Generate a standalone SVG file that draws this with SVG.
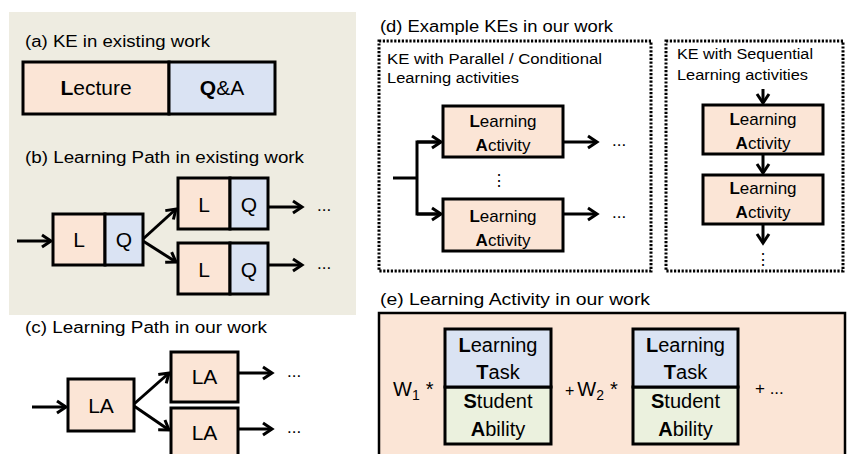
<svg xmlns="http://www.w3.org/2000/svg" width="847" height="454" viewBox="0 0 847 454">
<defs>
<marker id="arr" markerUnits="userSpaceOnUse" markerWidth="14" markerHeight="16" refX="11" refY="7" orient="auto" overflow="visible">
<path d="M2,1 L11,7 L2,13" fill="none" stroke="#000" stroke-width="3" stroke-linejoin="miter"/>
</marker>
</defs>
<style>
text{font-family:"Liberation Sans",Arial,sans-serif;fill:#000}
.t{font-size:16px}
.s{font-size:14px}
.box{stroke:#000;stroke-width:3}
.pe{fill:#FBE5D6}
.bl{fill:#DAE3F3}
.gr{fill:#EBF1DE}
.ln{stroke:#000;stroke-width:3;fill:none}
.dot{stroke:#000;stroke-width:3;fill:none;stroke-dasharray:2.2 1.6}
.c{text-anchor:middle}
.big{font-size:21px}
.m{font-size:17px}
.e{font-size:20px}
</style>
<rect x="9" y="12" width="347" height="303" fill="#EEECE1"/>
<text class="t" x="25" y="47" textLength="185" lengthAdjust="spacingAndGlyphs">(a) KE in existing work</text>
<text class="t" x="25" y="163" textLength="279" lengthAdjust="spacingAndGlyphs">(b) Learning Path in existing work</text>
<text class="t" x="25" y="333" textLength="242" lengthAdjust="spacingAndGlyphs">(c) Learning Path in our work</text>
<text class="t" x="380" y="32" textLength="233" lengthAdjust="spacingAndGlyphs">(d) Example KEs in our work</text>
<text class="t" x="380" y="305" textLength="270" lengthAdjust="spacingAndGlyphs">(e) Learning Activity in our work</text>

<g id="a-ke">
<rect class="box pe" x="23" y="62" width="146" height="52"/>
<rect class="box bl" x="169" y="62" width="106" height="52"/>
<text class="big c" x="96" y="95"><tspan font-weight="bold">L</tspan>ecture</text>
<text class="big c" x="222" y="95"><tspan font-weight="bold">Q</tspan>&amp;A</text>
</g>

<g id="b-lq1">
<rect class="box pe" x="53" y="214" width="52" height="51"/>
<rect class="box bl" x="105" y="214" width="38" height="51"/>
<text class="big c" x="79" y="247">L</text>
<text class="big c" x="124" y="247">Q</text>
</g>
<g id="b-lq2">
<rect class="box pe" x="178" y="178" width="52" height="51"/>
<rect class="box bl" x="230" y="178" width="38" height="51"/>
<text class="big c" x="204" y="212">L</text>
<text class="big c" x="249" y="212">Q</text>
</g>
<g id="b-lq3">
<rect class="box pe" x="178" y="243" width="52" height="51"/>
<rect class="box bl" x="230" y="243" width="38" height="51"/>
<text class="big c" x="204" y="277">L</text>
<text class="big c" x="249" y="277">Q</text>
</g>

<g id="c-la1">
<rect class="box pe" x="68" y="379" width="66" height="52"/>
<text class="big c" x="101" y="413">LA</text>
</g>
<g id="c-la2">
<rect class="box pe" x="171" y="352" width="67" height="50"/>
<text class="big c" x="204.5" y="384">LA</text>
</g>
<g id="c-la3">
<rect class="box pe" x="171" y="408" width="67" height="52"/>
<text class="big c" x="204.5" y="440">LA</text>
</g>

<g id="d-parallel">
<rect class="dot" x="379" y="41" width="272" height="230"/>
<text class="s" x="387" y="64" textLength="215" lengthAdjust="spacingAndGlyphs">KE with Parallel / Conditional</text>
<text class="s" x="387" y="83" textLength="132" lengthAdjust="spacingAndGlyphs">Learning activities</text>
</g>
<g id="d-la1">
<rect class="box pe" x="443" y="106" width="120" height="51"/>
<text class="m c" x="503" y="127"><tspan font-weight="bold">L</tspan>earning</text>
<text class="m c" x="503" y="151"><tspan font-weight="bold">A</tspan>ctivity</text>
</g>
<g id="d-la2">
<rect class="box pe" x="443" y="199" width="120" height="52"/>
<text class="m c" x="503" y="222"><tspan font-weight="bold">L</tspan>earning</text>
<text class="m c" x="503" y="246"><tspan font-weight="bold">A</tspan>ctivity</text>
</g>
<g id="d-sequential">
<rect class="dot" x="666" y="41" width="177" height="230"/>
<text class="s" x="677" y="59" textLength="136" lengthAdjust="spacingAndGlyphs">KE with Sequential</text>
<text class="s" x="677" y="80" textLength="131" lengthAdjust="spacingAndGlyphs">Learning activities</text>
</g>
<g id="d-la3">
<rect class="box pe" x="703" y="105" width="120" height="49"/>
<text class="m c" x="763" y="125"><tspan font-weight="bold">L</tspan>earning</text>
<text class="m c" x="763" y="149"><tspan font-weight="bold">A</tspan>ctivity</text>
</g>
<g id="d-la4">
<rect class="box pe" x="703" y="175" width="120" height="49"/>
<text class="m c" x="763" y="194"><tspan font-weight="bold">L</tspan>earning</text>
<text class="m c" x="763" y="218"><tspan font-weight="bold">A</tspan>ctivity</text>
</g>

<g id="e-activity">
<rect x="379" y="313" width="466" height="150" fill="#FBE5D6" stroke="#000" stroke-width="2.5"/>
<text class="e" x="393" y="396">W<tspan font-size="14px" dy="4">1</tspan><tspan dx="6" dy="-4">*</tspan></text>
<rect class="gr" x="445" y="387" width="106" height="57" stroke="#000" stroke-width="3"/>
<rect class="bl" x="445" y="329" width="106" height="58" stroke="#000" stroke-width="3"/>
<text class="e c" x="498" y="352"><tspan font-weight="bold">L</tspan>earning</text>
<text class="e c" x="498" y="379"><tspan font-weight="bold">T</tspan>ask</text>
<text class="e c" x="498" y="408"><tspan font-weight="bold">S</tspan>tudent</text>
<text class="e c" x="498" y="436"><tspan font-weight="bold">A</tspan>bility</text>
<text class="e" x="565" y="396"><tspan font-size="16px">+</tspan><tspan dx="3">W</tspan><tspan font-size="14px" dy="4">2</tspan><tspan dx="6" dy="-4">*</tspan></text>
<rect class="gr" x="633" y="387" width="105" height="57" stroke="#000" stroke-width="3"/>
<rect class="bl" x="633" y="329" width="105" height="58" stroke="#000" stroke-width="3"/>
<text class="e c" x="685.5" y="352"><tspan font-weight="bold">L</tspan>earning</text>
<text class="e c" x="685.5" y="379"><tspan font-weight="bold">T</tspan>ask</text>
<text class="e c" x="685.5" y="408"><tspan font-weight="bold">S</tspan>tudent</text>
<text class="e c" x="685.5" y="436"><tspan font-weight="bold">A</tspan>bility</text>
<text x="755" y="394" font-size="17px">+ ...</text>
</g>

<g id="connectors">
<line class="ln" x1="17" y1="241" x2="51" y2="241" marker-end="url(#arr)"/>
<line class="ln" x1="143" y1="239" x2="176" y2="209" marker-end="url(#arr)"/>
<line class="ln" x1="143" y1="241" x2="176" y2="262" marker-end="url(#arr)"/>
<line class="ln" x1="268" y1="207" x2="302" y2="207" marker-end="url(#arr)"/>
<line class="ln" x1="268" y1="265" x2="302" y2="265" marker-end="url(#arr)"/>
<text x="317" y="211" font-size="17px">...</text>
<text x="317" y="269" font-size="17px">...</text>

<line class="ln" x1="32" y1="407" x2="66" y2="407" marker-end="url(#arr)"/>
<line class="ln" x1="134" y1="404" x2="169" y2="373" marker-end="url(#arr)"/>
<line class="ln" x1="134" y1="406" x2="169" y2="430" marker-end="url(#arr)"/>
<line class="ln" x1="238" y1="373" x2="272" y2="373" marker-end="url(#arr)"/>
<line class="ln" x1="238" y1="429" x2="272" y2="429" marker-end="url(#arr)"/>
<text x="287" y="377" font-size="17px">...</text>
<text x="287" y="433" font-size="17px">...</text>

<polyline class="ln" points="393,178 417,178"/>
<polyline class="ln" points="441,142 417,142 417,214 441,214"/>
<line class="ln" x1="417" y1="142" x2="441" y2="142" marker-end="url(#arr)"/>
<line class="ln" x1="417" y1="214" x2="441" y2="214" marker-end="url(#arr)"/>
<text x="499" y="186" font-size="16px" text-anchor="middle" font-family="DejaVu Sans">⋮</text>
<line class="ln" x1="563" y1="142" x2="597" y2="142" marker-end="url(#arr)"/>
<line class="ln" x1="563" y1="214" x2="597" y2="214" marker-end="url(#arr)"/>
<text x="612" y="146" font-size="17px">...</text>
<text x="612" y="218" font-size="17px">...</text>

<line class="ln" x1="763" y1="89" x2="763" y2="103" marker-end="url(#arr)"/>
<line class="ln" x1="763" y1="155" x2="763" y2="173" marker-end="url(#arr)"/>
<line class="ln" x1="763" y1="225" x2="763" y2="243" marker-end="url(#arr)"/>
<text x="763" y="265" font-size="16px" text-anchor="middle" font-family="DejaVu Sans">⋮</text>
</g>
</svg>
